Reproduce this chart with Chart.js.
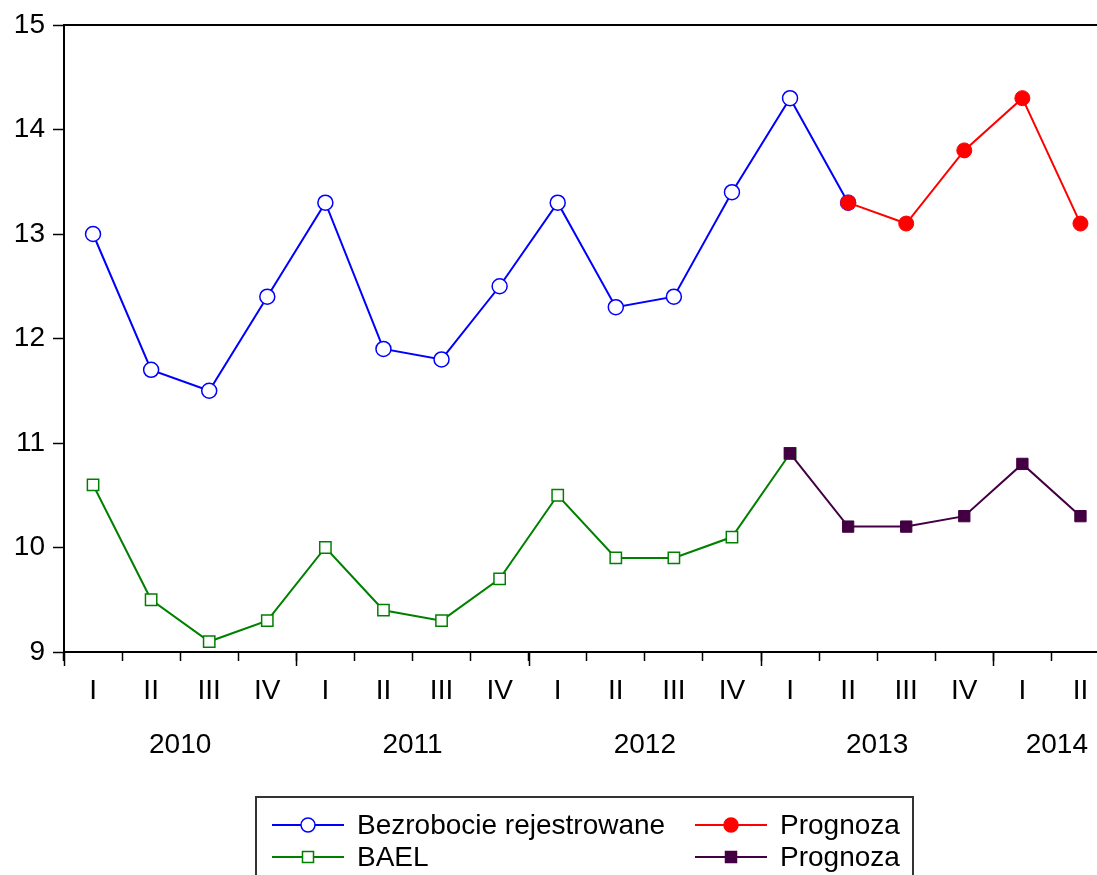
<!DOCTYPE html>
<html>
<head>
<meta charset="utf-8">
<script src="https://cdn.jsdelivr.net/npm/chart.js@4/dist/chart.umd.min.js"></script>
<style>
  html, body { margin: 0; padding: 0; background: #fff; overflow: hidden; }
  #wrap { width: 1097px; height: 875px; overflow: hidden; }
</style>
</head>
<body>
<div id="wrap"><canvas id="c" width="1119" height="875"></canvas></div>
<script>
// quarters 2010 Q1 .. 2014 Q2
const quarters = ['I','II','III','IV','I','II','III','IV','I','II','III','IV','I','II','III','IV','I','II'];
const years = ['2010', '2011', '2012', '2013', '2014'];
const yearStart = [0, 4, 8, 12, 16];

const registered = [13.0, 11.7, 11.5, 12.4, 13.3, 11.9, 11.8, 12.5, 13.3, 12.3, 12.4, 13.4, 14.3, 13.3, null, null, null, null];
const registeredForecast = [null, null, null, null, null, null, null, null, null, null, null, null, null, 13.3, 13.1, 13.8, 14.3, 13.1];
const bael = [10.6, 9.5, 9.1, 9.3, 10.0, 9.4, 9.3, 9.7, 10.5, 9.9, 9.9, 10.1, 10.9, null, null, null, null, null];
const baelForecast = [null, null, null, null, null, null, null, null, null, null, null, null, 10.9, 10.2, 10.2, 10.3, 10.8, 10.3];

Chart.defaults.font.family = "'Liberation Sans', Arial, sans-serif";
Chart.defaults.color = '#000';

const FONT = '28px "Liberation Sans", Arial, sans-serif';

// top frame line, major year ticks, year labels and boxed legend
const extras = {
    id: 'extras',
    afterDraw(chart) {
        const ctx = chart.ctx;
        const area = chart.chartArea;
        const x = chart.scales.x;
        const step = x.getPixelForValue(1) - x.getPixelForValue(0);
        ctx.save();
        ctx.strokeStyle = '#000';
        ctx.lineWidth = 2;
        ctx.beginPath();
        ctx.moveTo(area.left - 1, area.top);
        ctx.lineTo(area.right, area.top);
        ctx.stroke();

        ctx.lineWidth = 1.5;
        yearStart.forEach(function (i) {
            const px = Math.round(x.getPixelForValue(i) - step / 2) + 0.5;
            ctx.beginPath();
            ctx.moveTo(px, area.bottom);
            ctx.lineTo(px, area.bottom + 14);
            ctx.stroke();
        });

        ctx.font = FONT;
        ctx.fillStyle = '#000';
        ctx.textAlign = 'center';
        ctx.textBaseline = 'middle';
        years.forEach(function (label, k) {
            const a = yearStart[k];
            const b = k + 1 < yearStart.length ? yearStart[k + 1] - 1 : quarters.length - 1;
            let cx = (x.getPixelForValue(a) + x.getPixelForValue(b)) / 2;
            if (k === years.length - 1) {
                // last (partial) year label is pushed toward the right edge
                const w = ctx.measureText(label).width;
                cx = 1097 - 9 - w / 2;
            }
            ctx.fillText(label, cx, area.bottom + 93);
        });

        // legend
        ctx.strokeStyle = '#333';
        ctx.lineWidth = 2;
        ctx.strokeRect(256, 797, 657, 100);
        const ds = chart.data.datasets;
        const slots = [
            { d: ds[0], x: 272, y: 825 },
            { d: ds[1], x: 695, y: 825 },
            { d: ds[2], x: 272, y: 857 },
            { d: ds[3], x: 695, y: 857 },
        ];
        slots.forEach(function (s) {
            ctx.strokeStyle = s.d.borderColor;
            ctx.lineWidth = 2;
            ctx.beginPath();
            ctx.moveTo(s.x, s.y);
            ctx.lineTo(s.x + 72, s.y);
            ctx.stroke();
            const mx = s.x + 36;
            ctx.fillStyle = s.d.pointBackgroundColor;
            ctx.strokeStyle = s.d.pointBorderColor;
            ctx.lineWidth = 1.5;
            ctx.beginPath();
            if (s.d.pointStyle === 'circle') {
                ctx.arc(mx, s.y, 7, 0, Math.PI * 2);
            } else {
                ctx.rect(mx - 5.5, s.y - 5.5, 11, 11);
            }
            ctx.fill();
            ctx.stroke();
            ctx.fillStyle = '#000';
            ctx.textAlign = 'left';
            ctx.fillText(s.d.label, s.x + 85, s.y + 1);
        });
        ctx.restore();
    },
};

new Chart(document.getElementById('c'), {
    type: 'line',
    data: {
        labels: quarters,
        datasets: [
            {
                label: 'Bezrobocie rejestrowane',
                data: registered,
                borderColor: '#0000ff',
                borderWidth: 2,
                pointStyle: 'circle',
                pointRadius: 7.5,
                pointBackgroundColor: '#ffffff',
                pointBorderColor: '#0000ff',
                pointBorderWidth: 1.5,
                order: 2,
            },
            {
                label: 'Prognoza',
                data: registeredForecast,
                borderColor: '#ff0000',
                borderWidth: 2,
                pointStyle: 'circle',
                pointRadius: 7.5,
                pointBackgroundColor: '#ff0000',
                pointBorderColor: '#ff0000',
                pointBorderWidth: 1,
                order: 1,
            },
            {
                label: 'BAEL',
                data: bael,
                borderColor: '#008000',
                borderWidth: 2,
                pointStyle: 'rect',
                pointRadius: 8,
                pointBackgroundColor: '#ffffff',
                pointBorderColor: '#008000',
                pointBorderWidth: 1.5,
                order: 2,
            },
            {
                label: 'Prognoza',
                data: baelForecast,
                borderColor: '#420042',
                borderWidth: 2,
                pointStyle: 'rect',
                pointRadius: 8,
                pointBackgroundColor: '#420042',
                pointBorderColor: '#420042',
                pointBorderWidth: 1,
                order: 1,
            },
        ],
    },
    options: {
        responsive: false,
        animation: false,
        spanGaps: false,
        layout: { padding: { top: 25, left: 0, right: 0, bottom: 0 } },
        plugins: {
            legend: { display: false },
            tooltip: { enabled: false },
        },
        scales: {
            x: {
                offset: true,
                afterFit: function (s) { s.height = 223; },
                grid: {
                    offset: true,
                    drawOnChartArea: false,
                    tickLength: 9,
                    tickColor: '#000',
                    tickWidth: 1.5,
                },
                border: { color: '#000', width: 2 },
                ticks: {
                    font: { size: 28 },
                    padding: 13,
                    maxRotation: 0,
                    autoSkip: false,
                },
            },
            y: {
                min: 9,
                max: 15,
                afterFit: function (s) { s.width = 64; },
                grid: {
                    drawOnChartArea: false,
                    tickLength: 11,
                    tickColor: '#000',
                    tickWidth: 1.5,
                },
                border: { color: '#000', width: 2 },
                ticks: {
                    stepSize: 1,
                    font: { size: 28 },
                    padding: 8,
                },
            },
        },
    },
    plugins: [extras],
});
</script>
</body>
</html>
